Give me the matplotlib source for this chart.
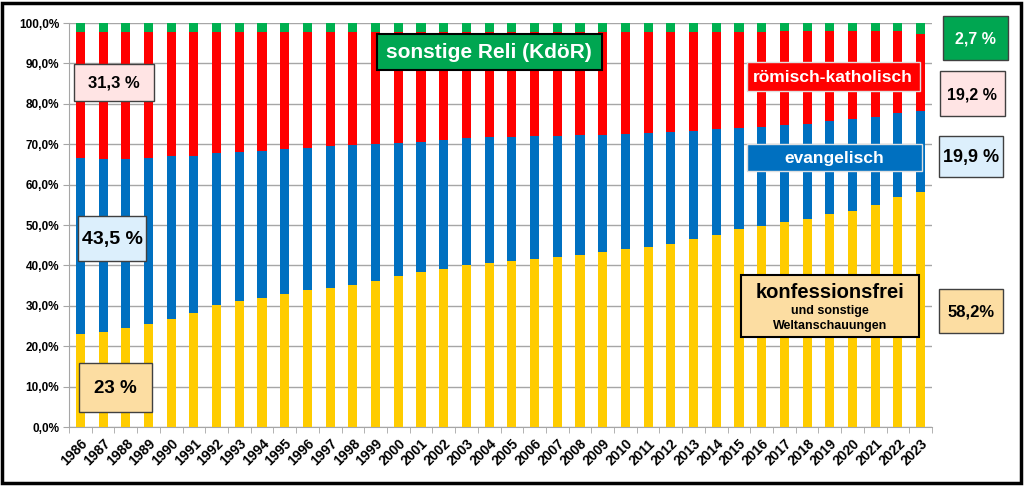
import matplotlib.pyplot as plt
from matplotlib.patches import Rectangle
from matplotlib.ticker import FuncFormatter, MultipleLocator
import numpy as np

plt.rcParams['font.family'] = ['Liberation Sans', 'DejaVu Sans']
plt.rcParams['font.weight'] = 'bold'

# Anteile in Prozent, 1986-2023
jahre = list(range(1986, 2024))
konfessionsfrei = [23.0, 23.6, 24.4, 25.6, 26.7, 28.3, 30.1, 31.2, 32.0, 32.9,
                   33.8, 34.4, 35.1, 36.2, 37.4, 38.3, 39.2, 40.0, 40.7, 41.1,
                   41.6, 42.1, 42.6, 43.3, 44.1, 44.6, 45.2, 46.5, 47.5, 48.9,
                   49.8, 50.7, 51.6, 52.6, 53.5, 54.9, 57.0, 58.2]
evangelisch = [43.5, 42.8, 42.0, 41.1, 40.5, 38.9, 37.6, 36.9, 36.4, 36.0,
               35.3, 35.2, 34.7, 33.8, 32.8, 32.2, 31.8, 31.5, 31.0, 30.6,
               30.4, 29.9, 29.6, 29.1, 28.4, 28.2, 27.7, 26.8, 26.2, 25.2,
               24.5, 24.1, 23.4, 23.1, 22.7, 21.9, 20.8, 19.9]
katholisch = [31.3, 31.4, 31.4, 31.0, 30.5, 30.5, 30.0, 29.6, 29.3, 28.8,
              28.6, 28.1, 27.9, 27.7, 27.5, 27.2, 26.7, 26.2, 26.0, 26.0,
              25.7, 25.7, 25.5, 25.3, 25.2, 24.9, 24.8, 24.4, 24.0, 23.6,
              23.4, 23.1, 22.9, 22.2, 21.7, 21.1, 20.1, 19.2]
sonstige = [2.2, 2.2, 2.2, 2.3, 2.3, 2.3, 2.3, 2.3, 2.3, 2.3,
            2.3, 2.3, 2.3, 2.3, 2.3, 2.3, 2.3, 2.3, 2.3, 2.3,
            2.3, 2.3, 2.3, 2.3, 2.3, 2.3, 2.3, 2.3, 2.3, 2.3,
            2.3, 2.1, 2.1, 2.1, 2.1, 2.1, 2.1, 2.7]

gelb = '#FFCC00'
blau = '#0070C0'
rot = '#FF0000'
gruen = '#00B050'

W, H = 1024, 486
fig = plt.figure(figsize=(W / 100, H / 100), dpi=100)
ax = fig.add_axes([69 / W, 1 - 427 / H, (932 - 69) / W, (427 - 23) / H])

x = np.arange(len(jahre))
b1 = np.array(konfessionsfrei)
b2 = b1 + np.array(evangelisch)
b3 = b2 + np.array(katholisch)
bw = 0.4
ax.bar(x, konfessionsfrei, bw, color=gelb, zorder=3)
ax.bar(x, evangelisch, bw, bottom=b1, color=blau, zorder=3)
ax.bar(x, katholisch, bw, bottom=b2, color=rot, zorder=3)
ax.bar(x, sonstige, bw, bottom=b3, color=gruen, zorder=3)

ax.set_xlim(-0.5, len(jahre) - 0.5)
ax.set_ylim(0, 100)
ax.yaxis.set_major_locator(MultipleLocator(10))
ax.yaxis.set_major_formatter(FuncFormatter(lambda v, p: f'{v:.1f}%'.replace('.', ',')))
ax.grid(axis='y', color='#a6a6a6', lw=1, zorder=0)
ax.set_xticks(x)
ax.set_xticklabels([str(j) for j in jahre], rotation=45, ha='right',
                   rotation_mode='anchor', fontsize=10, fontweight='bold')
ax.set_xticks(np.arange(-0.5, len(jahre), 1), minor=True)
ax.tick_params(axis='x', which='major', length=0, pad=7)
ax.tick_params(axis='x', which='minor', length=4, color='#a6a6a6')
ax.tick_params(axis='y', length=4, color='#a6a6a6', labelsize=8.5, pad=3)
for s in ['top', 'right']:
    ax.spines[s].set_visible(False)
for s in ['left', 'bottom']:
    ax.spines[s].set_color('#a6a6a6')


def box(x0, y0, x1, y1, fc, ec='#404040', lw=1.0):
    fig.add_artist(Rectangle((x0 / W, 1 - y1 / H), (x1 - x0) / W, (y1 - y0) / H,
                             transform=fig.transFigure, facecolor=fc,
                             edgecolor=ec, lw=lw, zorder=5))


def txt(xc, yc, s, size, color='black'):
    fig.text(xc / W, 1 - yc / H, s, ha='center', va='center', fontsize=size,
             fontweight='bold', color=color, zorder=6)


rosa = '#FFE4E4'
hellblau = '#DCEFFC'
orange = '#FCDDA2'

box(74, 64, 154, 101, rosa)
txt(114, 83, '31,3 %', 12)
box(78, 216, 146, 261, hellblau)
txt(112, 239, '43,5 %', 14)
box(79, 363, 152, 412, orange)
txt(115, 388, '23 %', 13.5)

box(377, 34, 602, 70, '#00A651', ec='black', lw=1.5)
txt(489, 53, 'sonstige Reli (KdöR)', 15, 'white')
box(747, 62, 920, 91, rot, ec='#e0e0e0', lw=1)
txt(833, 77, 'römisch-katholisch', 12.5, 'white')
box(747, 144, 922, 171, blau, ec='#e0e0e0', lw=1)
txt(834, 158, 'evangelisch', 12.5, 'white')
box(741, 275, 919, 337, orange, ec='black', lw=1.5)
txt(830, 292, 'konfessionsfrei', 14.5)
txt(830, 311, 'und sonstige', 9)
txt(830, 326, 'Weltanschauungen', 9)

box(943, 16, 1008, 60, '#00A651', ec='#404040')
txt(975, 39, '2,7 %', 11.5, 'white')
box(940, 71, 1005, 116, rosa)
txt(972, 95, '19,2 %', 11.5)
box(939, 136, 1003, 177, hellblau)
txt(971, 157, '19,9 %', 13)
box(939, 289, 1003, 333, orange)
txt(971, 312, '58,2%', 12)

# Rahmen um die ganze Grafik
fig.add_artist(Rectangle((2 / W, 3 / H), 1019 / W, 480 / H, transform=fig.transFigure,
                         fill=False, edgecolor='black', lw=2.5, zorder=10))

fig.savefig('out.png', dpi=100)
